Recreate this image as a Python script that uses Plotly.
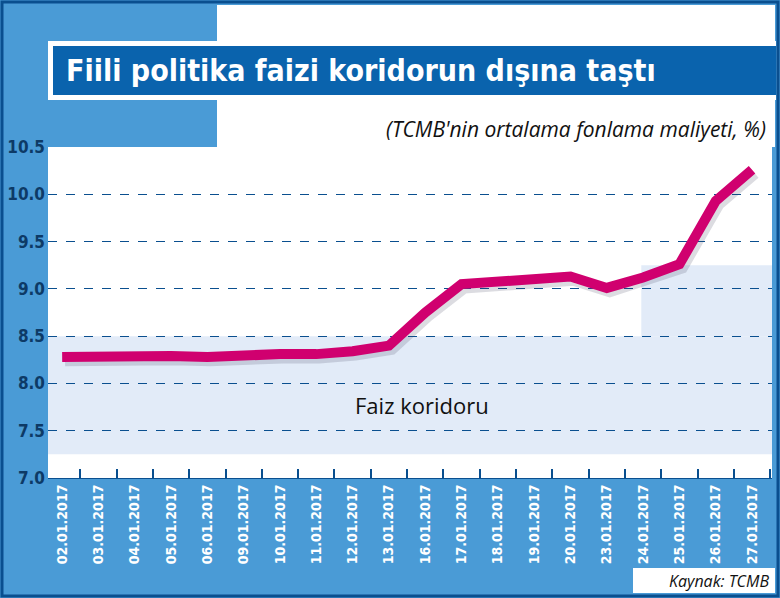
import plotly.graph_objects as go

# ── data ────────────────────────────────────────────────────────────
dates = ["02.01.2017", "03.01.2017", "04.01.2017", "05.01.2017", "06.01.2017",
         "09.01.2017", "10.01.2017", "11.01.2017", "12.01.2017", "13.01.2017",
         "16.01.2017", "17.01.2017", "18.01.2017", "19.01.2017", "20.01.2017",
         "23.01.2017", "24.01.2017", "25.01.2017", "26.01.2017", "27.01.2017"]
funding_cost = [8.28, 8.29, 8.28, 8.29, 8.28, 8.30, 8.31, 8.31, 8.34, 8.40,
                8.75, 9.05, 9.07, 9.10, 9.13, 9.01, 9.12, 9.26, 9.93, 10.26]
corridor_main = [7.25, 8.5]
corridor_late = [8.5, 9.25]
late_start = 16  # 24.01.2017
y_ticks = [7.0, 7.5, 8.0, 8.5, 9.0, 9.5, 10.0, 10.5]

W, H = 780, 598
L, R, T, B = 48, 772, 147, 478
BLUE = "#4a9bd6"
NAVY = "#0a4f8f"
COND = "DejaVu Sans Condensed, Liberation Sans Narrow, sans-serif"


def px(x):
    return (x - L) / (R - L)


def py(y):
    return (B - y) / (B - T)


def box(x0, y0, x1, y1, fill, line=None, lw=0):
    return dict(type="rect", xref="paper", yref="paper", layer="below",
                x0=px(x0), x1=px(x1), y0=py(y1), y1=py(y0),
                fillcolor=fill, line=dict(color=line or fill, width=lw))


x = list(range(len(dates)))
fig = go.Figure()
fig.add_trace(go.Scatter(x=[i + 0.08 for i in x], y=[v - 0.04 for v in funding_cost],
                         mode="lines", line=dict(color="rgba(60,60,90,0.18)", width=11),
                         hoverinfo="skip", showlegend=False))
fig.add_trace(go.Scatter(x=x, y=funding_cost, mode="lines",
                         line=dict(color="#d0006f", width=10), showlegend=False))

shapes = [
    # outer blue frame + white areas
    box(2, 2, 778, 596, BLUE, NAVY, 3),
    box(217, 5, 775, 147, "white"),
    box(L, T, R, B, "white"),
    box(633, 568, 775, 593, "white"),
    # title banner
    box(48, 41, 776, 100, "white"),
    box(53, 46, 776, 95, "#0a63ad"),
    # corridor bands
    dict(type="rect", xref="x", yref="y", layer="below",
         x0=-0.39, x1=19.55, y0=corridor_main[0], y1=corridor_main[1],
         fillcolor="#e2ebf8", line_width=0),
    dict(type="rect", xref="x", yref="y", layer="below",
         x0=late_start - 0.05, x1=19.55, y0=corridor_late[0], y1=corridor_late[1],
         fillcolor="#e2ebf8", line_width=0),
]

annotations = [
    dict(text="Fiili politika faizi koridorun dışına taştı", xref="paper", yref="paper",
         x=px(64), y=py(71), xanchor="left", yanchor="middle", showarrow=False,
         font=dict(family=COND, size=30, color="white", weight="bold")),
    dict(text="<i>(TCMB'nin ortalama fonlama maliyeti, %)</i>", xref="paper", yref="paper",
         x=px(768), y=py(129), xanchor="right", yanchor="middle", showarrow=False,
         font=dict(family="Open Sans", size=21, color="#111")),
    dict(text="Faiz koridoru", xref="x", yref="y", x=9.9, y=7.77, showarrow=False,
         font=dict(family="Open Sans", size=22, color="#111")),
    dict(text="<i>Kaynak: TCMB</i>", xref="paper", yref="paper",
         x=px(771), y=py(581), xanchor="right", yanchor="middle", showarrow=False,
         font=dict(family="Open Sans", size=16, color="#111")),
]

fig.update_layout(
    width=W, height=H,
    margin=dict(l=L, r=W - R, t=T, b=H - B),
    paper_bgcolor=BLUE, plot_bgcolor="rgba(0,0,0,0)",
    shapes=shapes, annotations=annotations,
)
fig.update_xaxes(
    range=[-0.39, 19.55], tickvals=x, ticktext=dates, tickangle=-90,
    ticks="", showgrid=False, zeroline=False,
    tickfont=dict(family=COND, size=14, color="white", weight="bold"),
    minor=dict(tick0=0.5, dtick=1, ticks="inside", ticklen=9, tickcolor=NAVY,
               tickwidth=1.5, showgrid=False),
    showline=True, linecolor=NAVY, linewidth=1,
)
fig.update_yaxes(
    range=[7.0, 10.5], tickvals=y_ticks, ticktext=[f"{v:.1f}" for v in y_ticks],
    showgrid=True, gridcolor=NAVY, griddash="dash", gridwidth=1,
    zeroline=False, ticks="", ticklabelstandoff=2,
    tickfont=dict(family=COND, size=17, color="#0d3a66", weight="bold"),
)

fig.write_html("out.html", config={"displayModeBar": False},
               post_script="document.body.style.margin='0';")
